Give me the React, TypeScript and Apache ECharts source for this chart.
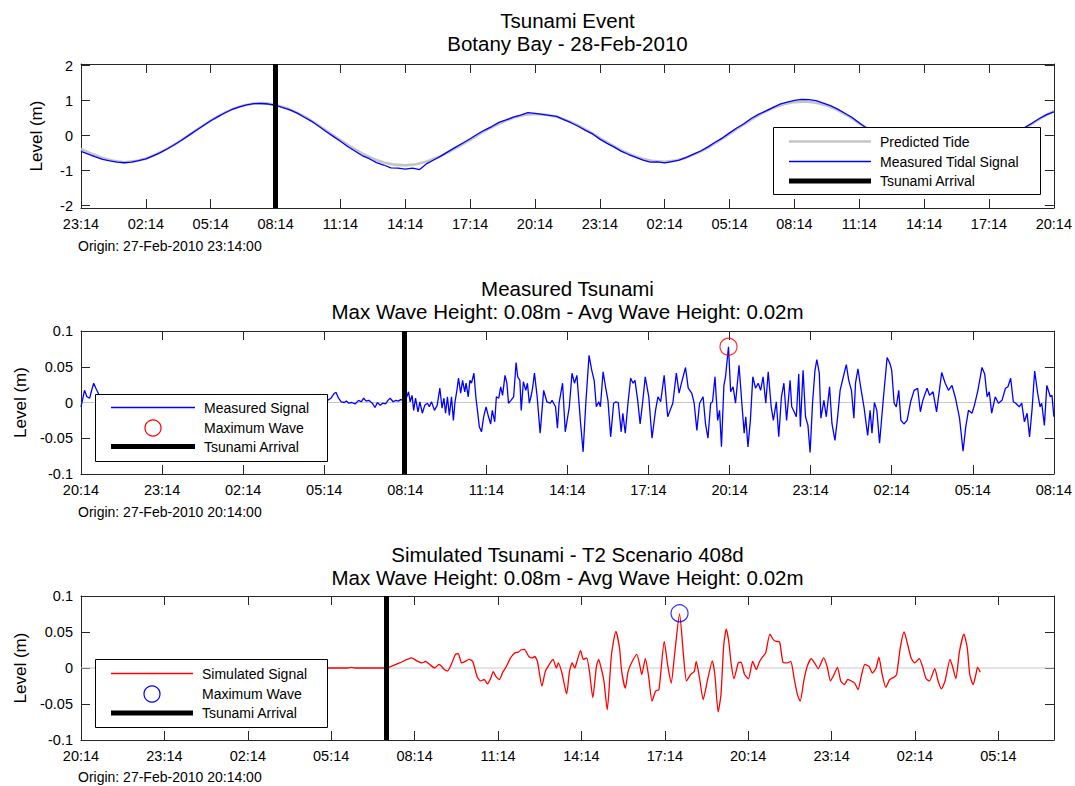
import React, { useEffect, useRef } from "react";
import * as echarts from "echarts";

const FONT = '"Liberation Sans", Arial, Helvetica, sans-serif';
const AXIS = "#262626";

// ---------- Panel 1: tide (hours from origin 27-Feb-2010 23:14) ----------
const tideOriginMin = 23 * 60 + 14;
const tideSpanHours = 45;
const predictedStepHours = 0.5;
const predictedTide = [
  -0.38, -0.52, -0.64, -0.72, -0.76, -0.73, -0.66, -0.53, -0.37, -0.19,
  0.02, 0.23, 0.43, 0.61, 0.76, 0.86, 0.92, 0.93, 0.88, 0.79,
  0.65, 0.49, 0.29, 0.08, -0.13, -0.33, -0.51, -0.66, -0.77, -0.83,
  -0.85, -0.82, -0.74, -0.62, -0.47, -0.3, -0.12, 0.07, 0.24, 0.39,
  0.51, 0.59, 0.62, 0.6, 0.54, 0.43, 0.29, 0.12, -0.07, -0.25,
  -0.42, -0.56, -0.67, -0.73, -0.75, -0.71, -0.63, -0.5, -0.34, -0.15,
  0.05, 0.26, 0.46, 0.64, 0.79, 0.9, 0.96, 0.98, 0.94, 0.86,
  0.73, 0.56, 0.36, 0.15, -0.07, -0.28, -0.47, -0.63, -0.75, -0.82,
  -0.85, -0.83, -0.75, -0.63, -0.47, -0.29, -0.08, 0.14, 0.34, 0.54,
  0.7,
];
const measuredStepHours = 1 / 3;
const measuredTide = [
  -0.45, -0.53, -0.61, -0.68, -0.72, -0.755, -0.775, -0.755, -0.715,
  -0.665, -0.58, -0.485, -0.375, -0.255, -0.125, 0.015, 0.155, 0.29,
  0.425, 0.545, 0.655, 0.755, 0.825, 0.88, 0.915, 0.92, 0.905,
  0.87, 0.8, 0.735, 0.645, 0.525, 0.41, 0.27, 0.12, -0.02,
  -0.16, -0.31, -0.44, -0.57, -0.66, -0.77, -0.84, -0.92, -0.93,
  -0.96, -0.93, -0.97, -0.8, -0.69, -0.58, -0.45, -0.33, -0.21,
  -0.09, 0.04, 0.16, 0.26, 0.38, 0.45, 0.53, 0.59, 0.66,
  0.64, 0.61, 0.58, 0.55, 0.46, 0.37, 0.27, 0.15, 0.05,
  -0.1, -0.22, -0.33, -0.45, -0.54, -0.62, -0.7, -0.76, -0.75,
  -0.78, -0.74, -0.7, -0.62, -0.53, -0.44, -0.32, -0.19, -0.07,
  0.08, 0.22, 0.34, 0.49, 0.61, 0.7, 0.8, 0.9, 0.96,
  1.01, 1.04, 1.03, 1.0, 0.93, 0.86, 0.76, 0.64, 0.52,
  0.36, 0.22, 0.07, -0.09, -0.23, -0.36, -0.5, -0.6, -0.7,
  -0.78, -0.84, -0.86, -0.88, -0.86, -0.82, -0.76, -0.68, -0.58,
  -0.46, -0.34, -0.2, -0.06, 0.09, 0.24, 0.36, 0.49, 0.6,
  0.68,
];
const tideArrivalHours = 8.98;
const tideYTicks = [-2, -1, 0, 1, 2];

// ---------- Panel 2: measured tsunami (hours from 27-Feb-2010 20:14) ----------
const tsunamiOriginMin = 20 * 60 + 14;
const measuredSpanHours = 36;
const measuredTsunami: [number, number][] = [
  [0.0, -0.006], [0.13, 0.017], [0.22, 0.008], [0.32, 0.006], [0.38, 0.015], [0.47, 0.027], [0.55, 0.02],
  [0.7, 0.008], [0.9, -0.002], [1.2, 0.004], [1.6, -0.003], [2.0, 0.002], [2.5, -0.002], [3.0, 0.003],
  [3.5, -0.001], [4.0, 0.002], [4.5, -0.003], [5.0, 0.001], [5.5, 0.003], [6.0, -0.002], [6.5, 0.002],
  [7.0, -0.001], [7.5, 0.002], [8.0, -0.002], [8.5, 0.001], [8.9, 0.002],
  [9.12, 0.003], [9.25, 0.006], [9.38, 0.013], [9.44, 0.014], [9.53, 0.006], [9.63, 0.001], [9.74, 0.0],
  [9.82, 0.002], [9.91, -0.001], [10.02, 0.0], [10.14, -0.002], [10.27, 0.003], [10.37, 0.001], [10.46, 0.006],
  [10.55, 0.002], [10.65, 0.003], [10.78, -0.001], [10.88, -0.007], [10.97, 0.0], [11.07, -0.004], [11.16, -0.001],
  [11.27, -0.002], [11.36, 0.003], [11.44, 0.006], [11.55, 0.001], [11.65, 0.003], [11.74, 0.002], [11.83, 0.004],
  [11.93, 0.003], [12.02, 0.004],
  [12.12, 0.015], [12.18, 0.001], [12.25, 0.01], [12.31, -0.011], [12.38, 0.006], [12.47, -0.013], [12.54, 0.001],
  [12.63, -0.015], [12.72, -0.004], [12.82, -0.001], [12.89, -0.006], [12.97, 0.001], [13.08, -0.011], [13.18, -0.004],
  [13.28, 0.02], [13.36, -0.008], [13.43, 0.006], [13.49, -0.015], [13.56, 0.008], [13.63, -0.018], [13.71, 0.008],
  [13.78, -0.025], [13.84, 0.001], [13.91, 0.017], [13.97, 0.034], [14.05, 0.013], [14.12, 0.031], [14.2, 0.015],
  [14.25, 0.027], [14.33, 0.008], [14.39, 0.031], [14.45, 0.027], [14.54, 0.041], [14.61, 0.008], [14.67, -0.011],
  [14.74, -0.034], [14.82, -0.041], [14.9, -0.02], [14.99, -0.006], [15.08, -0.02], [15.16, -0.03], [15.22, -0.011],
  [15.31, -0.027], [15.37, 0.008], [15.46, 0.006], [15.53, 0.022], [15.6, 0.01], [15.69, 0.038], [15.76, 0.027],
  [15.82, -0.001], [15.91, 0.003], [16.01, 0.008], [16.1, 0.056], [16.16, 0.036], [16.24, 0.031], [16.29, -0.011],
  [16.37, 0.029], [16.46, 0.017], [16.52, 0.027], [16.59, -0.001], [16.65, 0.008], [16.71, 0.02], [16.78, 0.041],
  [16.88, 0.008], [16.99, -0.043], [17.12, 0.017], [17.24, 0.001], [17.37, -0.001], [17.43, 0.003], [17.56, -0.006],
  [17.63, -0.036], [17.69, -0.001], [17.82, 0.027], [17.92, -0.041], [18.07, -0.006], [18.17, 0.041], [18.26, 0.027],
  [18.35, 0.038], [18.43, -0.001], [18.49, -0.03], [18.58, -0.069], [18.68, -0.001], [18.8, 0.066], [18.9, 0.045],
  [18.99, 0.031], [19.07, -0.006], [19.16, 0.001], [19.22, -0.006], [19.32, 0.043], [19.41, 0.022], [19.5, 0.003],
  [19.6, -0.048], [19.71, -0.001], [19.79, 0.001], [19.88, 0.0], [19.99, -0.041], [20.05, -0.015], [20.14, -0.043],
  [20.24, -0.001], [20.34, 0.034], [20.43, 0.027], [20.5, 0.031], [20.6, 0.003], [20.69, -0.03], [20.78, -0.001],
  [20.88, 0.036], [21.01, 0.008], [21.13, -0.05], [21.26, -0.011], [21.35, 0.008], [21.45, 0.001], [21.58, 0.038],
  [21.71, -0.02], [21.8, -0.011], [21.9, -0.001], [22.03, 0.041], [22.13, 0.013], [22.22, 0.027], [22.37, 0.049],
  [22.47, 0.02], [22.6, 0.013], [22.69, -0.001], [22.79, -0.039], [22.89, -0.001], [23.02, 0.008], [23.11, -0.03],
  [23.2, -0.05], [23.3, -0.001], [23.37, 0.001], [23.46, 0.036], [23.56, -0.025], [23.63, -0.011], [23.7, -0.062],
  [23.79, 0.024], [23.85, 0.036], [23.96, 0.078], [24.04, 0.015], [24.13, 0.022], [24.22, -0.001], [24.35, 0.052],
  [24.45, 0.001], [24.54, -0.043], [24.6, -0.02], [24.68, -0.062], [24.77, -0.025], [24.86, 0.036], [24.96, 0.02],
  [25.06, 0.027], [25.15, 0.017], [25.24, 0.036], [25.34, -0.001], [25.43, 0.043], [25.54, -0.006], [25.62, -0.025],
  [25.73, 0.001], [25.82, -0.048], [25.92, 0.008], [26.01, 0.027], [26.11, -0.025], [26.24, 0.031], [26.3, -0.006],
  [26.39, -0.013], [26.47, -0.02], [26.56, 0.04], [26.62, -0.034], [26.72, 0.045], [26.81, -0.02], [26.9, -0.032],
  [26.98, -0.07], [27.07, -0.001], [27.16, 0.045], [27.23, 0.06], [27.32, 0.041], [27.38, -0.022], [27.49, 0.003],
  [27.58, -0.02], [27.7, 0.022], [27.79, -0.03], [27.9, -0.053], [28.0, -0.02], [28.09, 0.017], [28.21, 0.036],
  [28.32, 0.053], [28.41, 0.031], [28.51, 0.017], [28.6, -0.022], [28.66, 0.027], [28.75, 0.047], [28.85, 0.022],
  [28.98, -0.008], [29.11, -0.046], [29.2, -0.011], [29.27, -0.043], [29.36, 0.0], [29.45, -0.011], [29.55, -0.057],
  [29.68, 0.001], [29.83, 0.063], [29.94, 0.054], [30.0, 0.045], [30.09, -0.001], [30.17, -0.006], [30.26, 0.017],
  [30.34, -0.025], [30.45, -0.03], [30.57, -0.025], [30.7, 0.001], [30.83, 0.017], [30.96, 0.02], [31.06, -0.013],
  [31.15, 0.003], [31.31, 0.02], [31.4, 0.01], [31.53, 0.015], [31.66, -0.013], [31.85, 0.042], [31.98, 0.027],
  [32.1, 0.017], [32.23, 0.024], [32.36, 0.006], [32.51, -0.022], [32.64, -0.068], [32.74, -0.034], [32.84, -0.011],
  [32.97, -0.015], [33.06, -0.004], [33.19, 0.017], [33.34, 0.049], [33.44, 0.04], [33.53, 0.008], [33.61, 0.015],
  [33.7, -0.015], [33.83, 0.008], [33.95, -0.001], [34.08, 0.003], [34.21, 0.02], [34.3, 0.022], [34.4, 0.034],
  [34.5, 0.001], [34.59, -0.001], [34.72, -0.006], [34.81, -0.001], [34.91, -0.027], [35.01, -0.015], [35.1, -0.048],
  [35.19, -0.011], [35.29, 0.044], [35.4, 0.013], [35.49, -0.006], [35.55, -0.001], [35.65, -0.032], [35.74, 0.024],
  [35.87, 0.008], [35.93, 0.01], [36.0, -0.02],
];
const measuredArrivalHours = 11.98;
const measuredMaxWave: [number, number] = [23.96, 0.078];

// ---------- Panel 3: simulated tsunami (hours from 27-Feb-2010 20:14) ----------
const simulatedSpanHours = 35;
const simulatedTsunami: [number, number][] = [
  [4.0, 0], [6.0, 0], [8.0, 0], [9.6, 0], [9.72, 0.001], [9.85, 0], [10.97, 0], [11.2, 0.003],
  [11.46, 0.007], [11.89, 0.014], [12.08, 0.01], [12.26, 0.007], [12.39, 0.009], [12.57, 0.004], [12.72, 0.0],
  [12.88, 0.005], [13.07, -0.002], [13.19, -0.004], [13.34, 0.007], [13.47, 0.019], [13.57, 0.02], [13.69, 0.007],
  [13.81, 0.009], [13.96, 0.012], [14.09, 0.009], [14.25, -0.012], [14.37, -0.018], [14.5, -0.016], [14.62, -0.022],
  [14.74, -0.014], [14.83, -0.005], [14.93, -0.012], [15.05, -0.016], [15.18, -0.005], [15.3, 0.002], [15.45, 0.014],
  [15.61, 0.021], [15.73, 0.022], [15.82, 0.025], [15.95, 0.026], [16.11, 0.016], [16.23, 0.014], [16.32, 0.016],
  [16.42, 0.009], [16.58, -0.025], [16.7, -0.005], [16.83, 0.004], [16.98, 0.012], [17.1, 0.0], [17.17, 0.007],
  [17.3, -0.007], [17.47, -0.036], [17.57, -0.005], [17.67, 0.007], [17.76, 0.0], [17.84, 0.009], [17.97, 0.024],
  [18.07, 0.012], [18.19, 0.014], [18.29, -0.005], [18.41, -0.041], [18.54, 0.002], [18.62, 0.012], [18.71, 0.0],
  [18.81, -0.018], [18.93, -0.058], [19.08, 0.018], [19.24, 0.051], [19.37, 0.028], [19.45, -0.005], [19.58, -0.028],
  [19.68, -0.005], [19.8, 0.007], [19.99, 0.019], [20.11, 0.002], [20.17, -0.009], [20.3, 0.013], [20.42, -0.012],
  [20.54, -0.046], [20.67, -0.032], [20.79, -0.03], [20.98, 0.037], [21.1, 0.005], [21.23, -0.021], [21.35, 0.018],
  [21.53, 0.075], [21.68, 0.014], [21.78, -0.018], [21.93, -0.009], [22.06, -0.005], [22.13, 0.009], [22.25, -0.014],
  [22.38, -0.044], [22.53, -0.018], [22.71, 0.01], [22.8, -0.009], [22.92, -0.061], [23.02, -0.037], [23.12, 0.032],
  [23.21, 0.054], [23.3, 0.037], [23.39, 0.005], [23.49, -0.015], [23.64, 0.007], [23.74, 0.008], [23.87, -0.009],
  [24.01, -0.015], [24.16, 0.009], [24.29, -0.002], [24.41, 0.009], [24.53, 0.016], [24.63, 0.021], [24.78, 0.047],
  [24.91, 0.039], [25.0, 0.037], [25.13, 0.036], [25.25, 0.008], [25.38, 0.007], [25.53, 0.009], [25.65, -0.014],
  [25.77, -0.037], [25.87, -0.046], [26.0, -0.018], [26.12, 0.002], [26.27, 0.013], [26.39, 0.007], [26.52, -0.001],
  [26.71, 0.014], [26.84, 0.002], [26.96, -0.018], [27.09, -0.009], [27.21, 0.001], [27.33, -0.018], [27.46, -0.023],
  [27.58, -0.016], [27.71, -0.018], [27.83, -0.021], [27.95, -0.03], [28.08, -0.009], [28.2, 0.005], [28.35, 0.002],
  [28.47, -0.007], [28.6, 0.0], [28.7, 0.015], [28.82, -0.009], [28.95, -0.027], [29.09, -0.016], [29.24, -0.013],
  [29.34, -0.009], [29.47, 0.028], [29.61, 0.05], [29.74, 0.032], [29.86, 0.014], [29.99, 0.007], [30.15, 0.013],
  [30.27, 0.002], [30.4, -0.015], [30.52, -0.018], [30.71, -0.001], [30.83, -0.018], [30.95, -0.029], [31.08, -0.018],
  [31.26, 0.012], [31.35, 0.002], [31.47, -0.015], [31.6, 0.023], [31.76, 0.047], [31.88, 0.028], [31.97, -0.009],
  [32.09, -0.023], [32.19, -0.009], [32.25, 0.001], [32.35, -0.006],
];
const simulatedArrivalHours = 10.97;
const simulatedMaxWave: [number, number] = [21.53, 0.076];
const waveYTicks = [-0.1, -0.05, 0, 0.05, 0.1];

// ---------- texts ----------
const titles = [
  "Tsunami Event\nBotany Bay - 28-Feb-2010",
  "Measured Tsunami\nMax Wave Height: 0.08m - Avg Wave Height: 0.02m",
  "Simulated Tsunami - T2 Scenario 408d\nMax Wave Height: 0.08m - Avg Wave Height: 0.02m",
];
const originTexts = [
  "Origin: 27-Feb-2010 23:14:00",
  "Origin: 27-Feb-2010 20:14:00",
  "Origin: 27-Feb-2010 20:14:00",
];

const clock = (originMin: number) => (v: number) => {
  const m = Math.round(originMin + v * 60);
  const mm = ((m % 1440) + 1440) % 1440;
  const h = Math.floor(mm / 60);
  const mi = mm % 60;
  return `${String(h).padStart(2, "0")}:${String(mi).padStart(2, "0")}`;
};

const hourTicks = (span: number) => {
  const out: number[] = [];
  for (let t = 0; t <= span + 1e-9; t += 3) out.push(t);
  return out;
};

function buildOption() {
  const grids = [
    { left: 81, top: 64, width: 973, height: 144 },
    { left: 81, top: 331, width: 973, height: 143 },
    { left: 81, top: 596, width: 973, height: 144 },
  ];
  const panels = [
    { origin: tideOriginMin, span: tideSpanHours, yMin: -2.07, yMax: 2.05, yTicks: tideYTicks },
    { origin: tsunamiOriginMin, span: measuredSpanHours, yMin: -0.1, yMax: 0.1, yTicks: waveYTicks },
    { origin: tsunamiOriginMin, span: simulatedSpanHours, yMin: -0.1, yMax: 0.1, yTicks: waveYTicks },
  ];

  const axisLine = { onZero: false, lineStyle: { color: AXIS, width: 1 } };
  const tick = (vals: number[]) => ({
    inside: true,
    length: 9,
    customValues: vals,
    lineStyle: { color: AXIS, width: 1 },
  });
  const labelStyle = { color: "#000", fontSize: 14.5, fontFamily: FONT };

  const xAxis: any[] = [];
  const yAxis: any[] = [];
  panels.forEach((p, i) => {
    const ticks = hourTicks(p.span);
    xAxis.push({
      type: "value", gridIndex: i, position: "bottom", min: 0, max: p.span,
      axisLine, axisTick: tick(ticks), splitLine: { show: false },
      axisLabel: { ...labelStyle, margin: 8, customValues: ticks, formatter: clock(p.origin) },
    });
  });
  panels.forEach((p, i) => {
    const ticks = hourTicks(p.span);
    xAxis.push({
      type: "value", gridIndex: i, position: "top", min: 0, max: p.span,
      axisLine, axisTick: tick(ticks), splitLine: { show: false }, axisLabel: { show: false },
    });
  });
  panels.forEach((p, i) => {
    yAxis.push({
      type: "value", gridIndex: i, position: "left", min: p.yMin, max: p.yMax,
      axisLine, axisTick: tick(p.yTicks), splitLine: { show: false },
      axisLabel: { ...labelStyle, margin: 8, customValues: p.yTicks },
      name: "Level (m)", nameLocation: "middle", nameGap: 36, nameRotate: 90,
      nameTextStyle: { color: "#000", fontSize: 17, fontFamily: FONT },
    });
  });
  panels.forEach((p, i) => {
    yAxis.push({
      type: "value", gridIndex: i, position: "right", min: p.yMin, max: p.yMax,
      axisLine, axisTick: tick(p.yTicks), splitLine: { show: false }, axisLabel: { show: false },
    });
  });

  const arrival = (x: number) => ({
    silent: true,
    symbol: ["none", "none"],
    label: { show: false },
    emphasis: { disabled: true },
    lineStyle: { color: "#000", width: 5, type: "solid" },
    data: [{ xAxis: x }],
  });
  const zeroLine = (i: number, span: number) => ({
    type: "line", xAxisIndex: i, yAxisIndex: i, z: 1, silent: true,
    symbol: "none", lineStyle: { color: "#c8c8c8", width: 1 },
    data: [[0, 0], [span, 0]],
  });

  const series: any[] = [
    {
      name: "Predicted Tide", type: "line", xAxisIndex: 0, yAxisIndex: 0, z: 2,
      symbol: "none", lineStyle: { color: "#c4c4c4", width: 2.6 },
      data: predictedTide.map((v, k) => [k * predictedStepHours, v]),
    },
    {
      name: "Measured Tidal Signal", type: "line", xAxisIndex: 0, yAxisIndex: 0, z: 3,
      symbol: "none", lineStyle: { color: "#0000ff", width: 1.3 },
      data: measuredTide.map((v, k) => [k * measuredStepHours, v]),
      markLine: arrival(tideArrivalHours),
    },
    zeroLine(1, measuredSpanHours),
    {
      name: "Measured Signal", type: "line", xAxisIndex: 1, yAxisIndex: 1, z: 3,
      symbol: "none", lineStyle: { color: "#0000ff", width: 1.3 },
      data: measuredTsunami,
      markLine: arrival(measuredArrivalHours),
    },
    {
      name: "Maximum Wave", type: "scatter", xAxisIndex: 1, yAxisIndex: 1, z: 4,
      symbol: "circle", symbolSize: 17,
      itemStyle: { color: "rgba(0,0,0,0)", borderColor: "#ff0000", borderWidth: 1.2 },
      data: [measuredMaxWave],
    },
    zeroLine(2, simulatedSpanHours),
    {
      name: "Simulated Signal", type: "line", xAxisIndex: 2, yAxisIndex: 2, z: 3,
      symbol: "none", smooth: 0.2, lineStyle: { color: "#ff0000", width: 1.3 },
      data: simulatedTsunami,
      markLine: arrival(simulatedArrivalHours),
    },
    {
      name: "Maximum Wave (sim)", type: "scatter", xAxisIndex: 2, yAxisIndex: 2, z: 4,
      symbol: "circle", symbolSize: 17,
      itemStyle: { color: "rgba(0,0,0,0)", borderColor: "#0000ff", borderWidth: 1.2 },
      data: [simulatedMaxWave],
    },
  ];

  const titleTops = [8.5, 277, 543];
  const title = titles.map((t, i) => ({
    text: t, left: 567.5, top: titleTops[i], textAlign: "center", padding: 0,
    textStyle: { color: "#000", fontSize: 20.5, fontWeight: "normal", fontFamily: FONT, lineHeight: 23 },
  }));

  const Z = 100;
  const txt = (x: number, y: number, s: string, size = 14) => ({
    type: "text", x, y, z: Z + 1, silent: true,
    style: { text: s, fill: "#000", fontSize: size, fontFamily: FONT, align: "left", verticalAlign: "middle" },
  });
  const box = (x: number, y: number, w: number, h: number) => ({
    type: "rect", z: Z, silent: true,
    shape: { x: x + 0.5, y: y + 0.5, width: w, height: h },
    style: { fill: "#fff", stroke: "#000", lineWidth: 1 },
  });
  const seg = (x1: number, x2: number, y: number, color: string, w: number) => ({
    type: "line", z: Z + 1, silent: true,
    shape: { x1, y1: y, x2, y2: y },
    style: { stroke: color, lineWidth: w },
  });
  const ring = (cx: number, cy: number, color: string) => ({
    type: "circle", z: Z + 1, silent: true,
    shape: { cx, cy, r: 8 },
    style: { fill: "none", stroke: color, lineWidth: 1.2 },
  });

  const elements: any[] = [
    // legend panel 1
    box(773, 127, 267, 67),
    seg(789, 871, 141.5, "#c4c4c4", 2.6), txt(880, 141.5, "Predicted Tide"),
    seg(789, 871, 161.5, "#0000ff", 1.3), txt(880, 161.5, "Measured Tidal Signal"),
    seg(789, 871, 181, "#000", 5), txt(880, 181, "Tsunami Arrival"),
    // legend panel 2
    box(95, 394, 232, 67),
    seg(111, 195, 407.5, "#0000ff", 1.3), txt(204, 407.5, "Measured Signal"),
    ring(153, 428, "#ff0000"), txt(204, 428, "Maximum Wave"),
    seg(111, 195, 446.5, "#000", 5), txt(204, 446.5, "Tsunami Arrival"),
    // legend panel 3
    box(95, 659, 232, 68),
    seg(111, 193, 673.5, "#ff0000", 1.3), txt(202, 673.5, "Simulated Signal"),
    ring(152, 694, "#0000ff"), txt(202, 694, "Maximum Wave"),
    seg(111, 193, 713, "#000", 5), txt(202, 713, "Tsunami Arrival"),
    // origin texts
    txt(78, 246, originTexts[0]),
    txt(78, 512, originTexts[1]),
    txt(78, 777, originTexts[2]),
  ];

  return {
    animation: false,
    backgroundColor: "#fff",
    textStyle: { fontFamily: FONT },
    title,
    grid: grids,
    xAxis,
    yAxis,
    series,
    graphic: { elements },
  };
}

export default function App() {
  const ref = useRef<HTMLDivElement>(null);
  useEffect(() => {
    if (!ref.current) return;
    const chart = echarts.init(ref.current, undefined, { renderer: "svg" });
    chart.setOption(buildOption() as any);
    return () => chart.dispose();
  }, []);
  return (
    <div
      ref={ref}
      style={{ position: "fixed", left: 0, top: 0, width: 1075, height: 786, background: "#fff" }}
    />
  );
}
